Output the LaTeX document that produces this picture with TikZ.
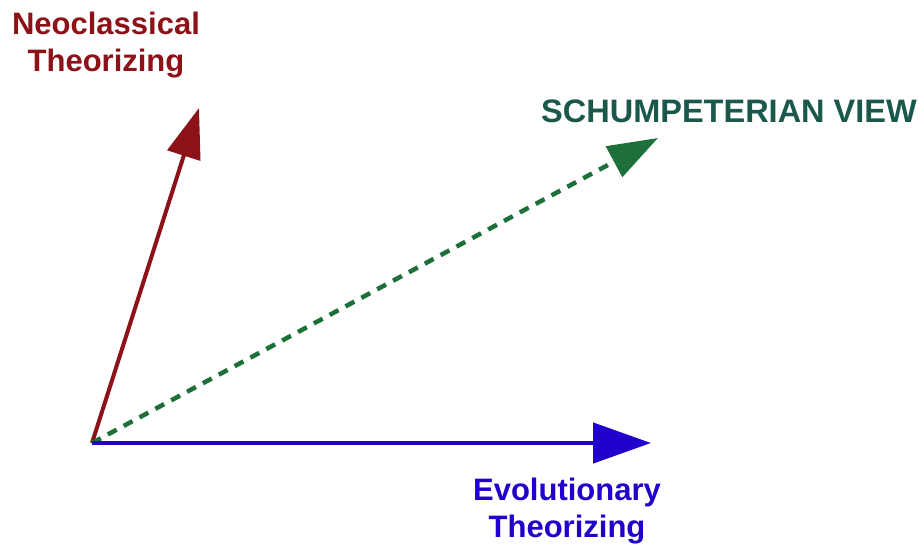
\documentclass[tikz,border=0pt]{standalone}
\usepackage{fontspec}
\setmainfont{Liberation Sans}
\usetikzlibrary{arrows.meta,positioning}

\definecolor{neored}{RGB}{140,18,24}
\definecolor{evoblue}{RGB}{34,0,204}
\definecolor{schgreen}{RGB}{30,112,58}
\definecolor{schtext}{RGB}{26,88,76}

\begin{document}
\begin{tikzpicture}[
    x=1pt, y=-1pt,
    every node/.style={align=center, font=\fontsize{31}{37}\selectfont\bfseries},
    vec/.style={line width=4.5pt, -{Triangle[length=50pt, width=34pt]}}
]
\useasboundingbox (0,0) rectangle (924,545);
\coordinate (origin) at (92,443);
\coordinate (neotip) at (199,108);
\coordinate (schtip) at (658,138);
\coordinate (evotip) at (651,443);
\node[text=neored] (neolabel) at (106,45) {Neoclassical\\Theorizing};
\node[text=schtext, font=\fontsize{32.5}{38}\selectfont\bfseries] (schlabel) at (729,111) {SCHUMPETERIAN VIEW};
\node[text=evoblue] (evolabel) at (567,511) {Evolutionary\\Theorizing};
\draw[vec, neored, line width=4pt] (origin) -- (neotip);
\draw[vec, schgreen, dash pattern=on 10pt off 8pt] (origin) -- (schtip);
\draw[vec, evoblue, -{Triangle[length=58pt, width=40pt]}] (origin) -- (evotip);
\end{tikzpicture}
\end{document}
